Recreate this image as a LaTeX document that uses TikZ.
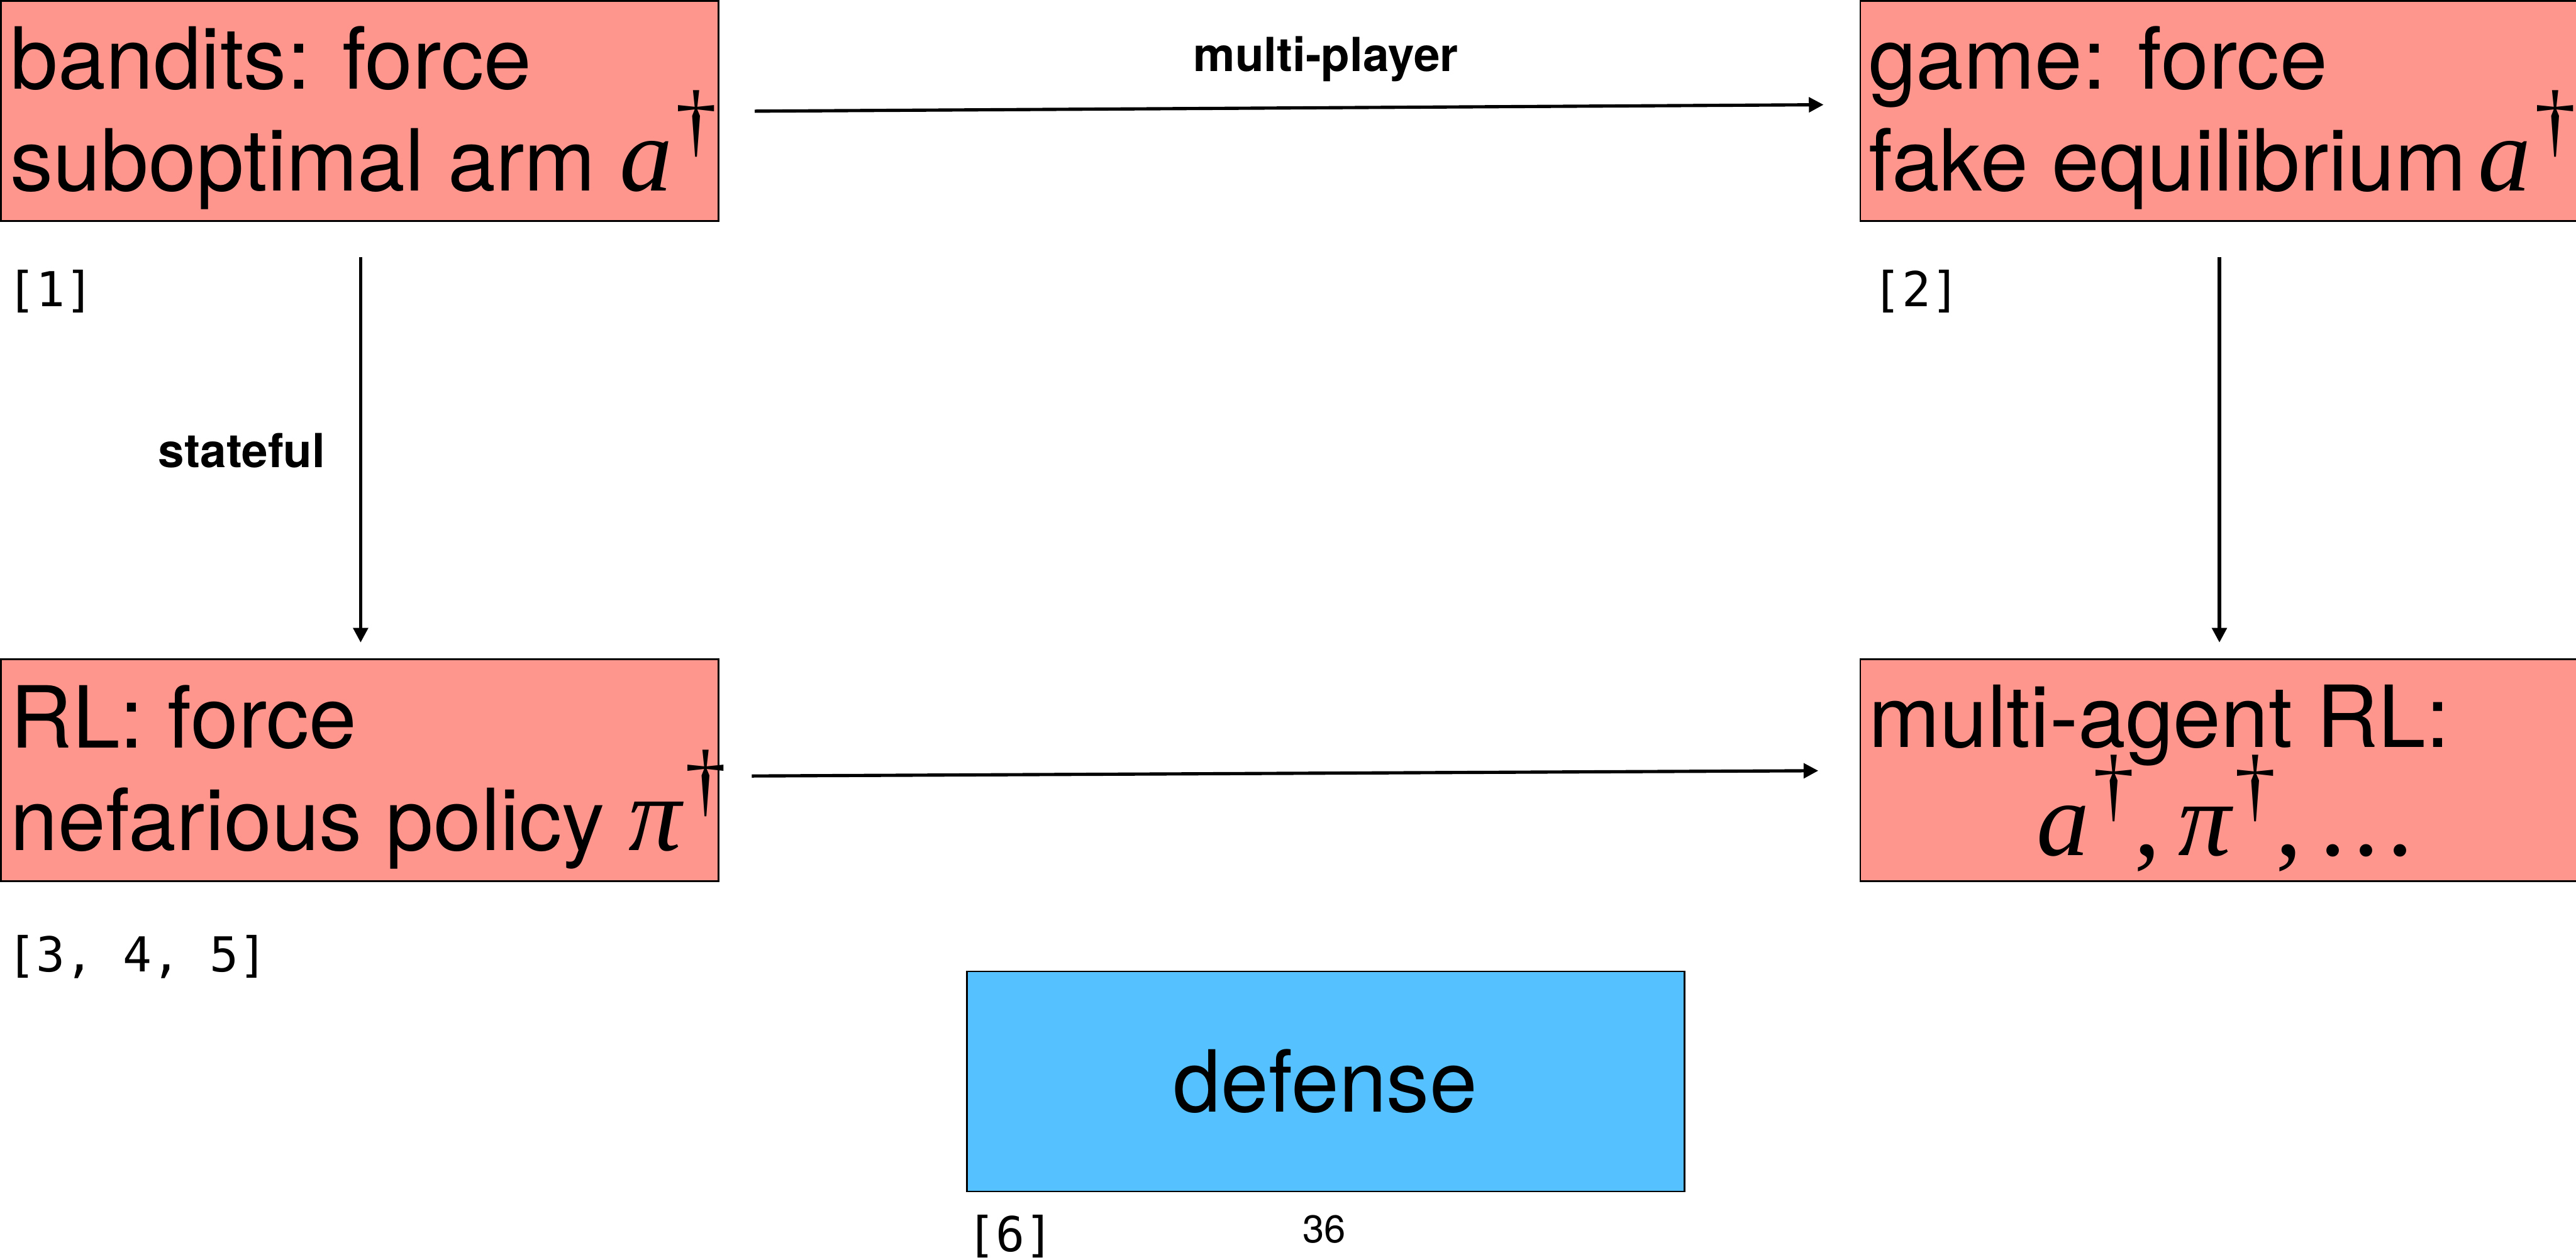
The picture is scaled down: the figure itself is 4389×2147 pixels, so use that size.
\documentclass[tikz,border=0pt]{standalone}
\usepackage{fontspec}
\setmainfont{TeX Gyre Heros}
\newfontfamily\refmono{DejaVu Sans Mono}
\newfontfamily\timesf{Liberation Serif}
\usetikzlibrary{arrows.meta,calc}
\definecolor{salmonbox}{HTML}{FF968D}
\definecolor{bluebox}{HTML}{56C1FF}
\newcommand\msym[1]{{\fontsize{18}{20}\selectfont\timesf\itshape #1}}
\newcommand\mpunct[1]{{\fontsize{18}{20}\selectfont\timesf #1}}
\newcommand\dgr{\kern0.6pt\raisebox{7.4pt}{\fontsize{14}{14}\selectfont\timesf \char"2020}}
\begin{document}
\begin{tikzpicture}[x=0.1pt,y=-0.1pt,
  attbox/.style={draw=black,line width=0.3pt,fill=salmonbox,rectangle,inner sep=0pt,
     minimum width=122.3pt,anchor=north west},
  defbox/.style={draw=black,line width=0.3pt,fill=bluebox,rectangle,inner sep=0pt,
     minimum width=122.3pt,minimum height=37.5pt,anchor=north west},
  bigtxt/.style={font=\fontsize{14.6}{17}\selectfont,inner sep=0pt,anchor=base west},
  reftxt/.style={font=\refmono\fontsize{8.2}{9}\selectfont,inner sep=0pt,anchor=base west},
  arrlbl/.style={font=\bfseries\fontsize{8}{9}\selectfont,inner sep=0pt,anchor=base},
  arr/.style={line width=0.55pt,-{Triangle[length=2.5pt,width=2.5pt]}}]
\useasboundingbox (0,0) rectangle (4389,2147);

% boxes
\node[attbox,minimum height=37.5pt] (b1) at (0,0) {};
\node[attbox,minimum height=37.5pt] (b2) at (3168,0) {};
\node[attbox,minimum height=37.8pt] (b3) at (0,1122) {};
\node[attbox,minimum height=37.8pt] (b4) at (3168,1122) {};
\node[defbox] (b5) at (1646,1654) {};

% box texts
\node[bigtxt] (t1a) at (16,152) {bandits: force};
\node[bigtxt] (t1b) at (16,325) {suboptimal arm \msym{a}\dgr};
\node[bigtxt] (t2a) at (3182,152) {game: force};
\node[bigtxt] (t2b) at (3182,325) {fake equilibrium\kern2pt\msym{a}\dgr};
\node[bigtxt] (t3a) at (16,1275) {RL: force};
\node[bigtxt] (t3b) at (16,1449) {nefarious policy \msym{\char"03C0}\dgr};
\node[bigtxt] (t4a) at (3182,1274) {multi-agent RL:};
\node[bigtxt,anchor=base] (t4b) at (3791,1458) {\msym{a}\dgr\mpunct{,\kern3pt}\msym{\char"03C0}\dgr\mpunct{,\kern3pt.\kern1.2pt.\kern1.2pt.}};
\node[bigtxt,anchor=base] (t5) at (2258,1895) {defense};

% references
\node[reftxt] (r1) at (10,522) {[1]};
\node[reftxt] (r2) at (3189,522) {[2]};
\node[reftxt] (r3) at (10,1656) {[3, 4, 5]};
\node[reftxt] (r6) at (1645,2133) {[6]};
\node[font=\fontsize{6.6}{8}\selectfont,inner sep=0pt,anchor=base] (pg) at (2256,2118) {36};

% connectors
\draw[arr] ($(b1.east)+(60,0.5)$) -- ($(b2.west)+(-61,-10.5)$);
\draw[arr] ($(b1.south)+(1.5,60)$) -- ($(b3.north)+(1.5,-27)$);
\draw[arr] ($(b2.south)+(0.5,60)$) -- ($(b4.north)+(0.5,-27)$);
\draw[arr] ($(b3.east)+(55,10)$) -- ($(b4.west)+(-70,1)$);

% connector labels
\node[arrlbl] (l1) at (2259,122) {multi-player};
\node[arrlbl] (l2) at (412,797) {stateful};
\end{tikzpicture}
\end{document}
